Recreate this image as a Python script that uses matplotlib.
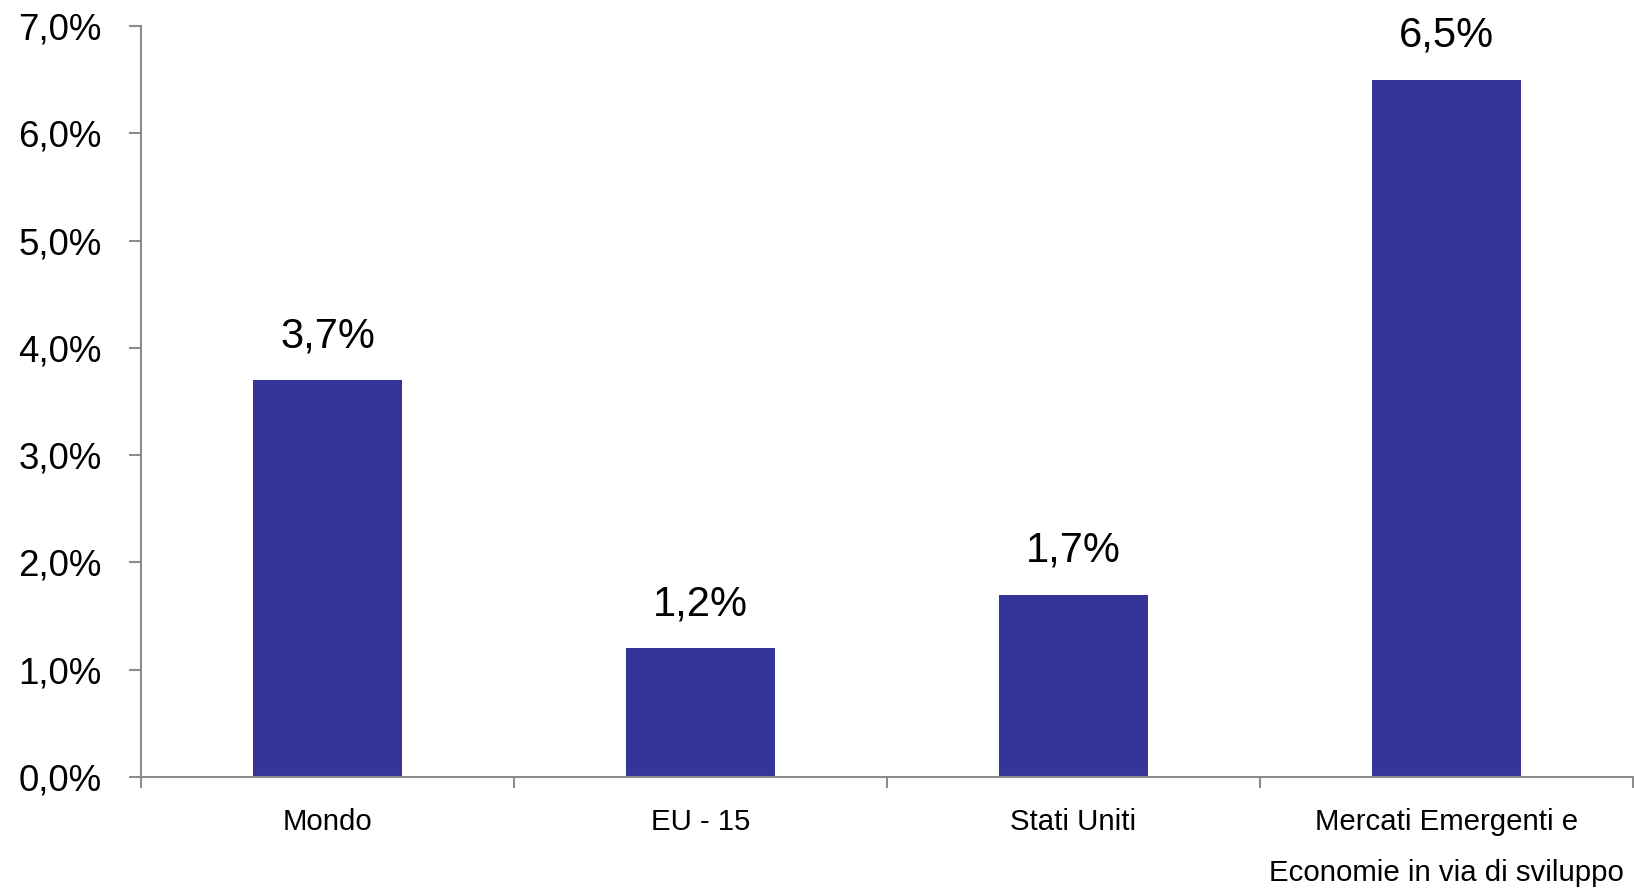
import matplotlib
matplotlib.use("Agg")
import matplotlib.pyplot as plt
from matplotlib.ticker import FuncFormatter

categories = ["Mondo", "EU - 15", "Stati Uniti", "Mercati Emergenti e\nEconomie in via di sviluppo"]
values = [3.7, 1.2, 1.7, 6.5]
yticks = [0, 1, 2, 3, 4, 5, 6, 7]

plt.rcParams['font.family'] = ['Liberation Sans', 'DejaVu Sans']

fig = plt.figure(figsize=(16.34, 8.9), dpi=100)
ax = fig.add_axes([0.0863, 0.127, 0.9131, 0.8438])

bar_color = "#353599"
axis_color = "#8c8c8c"
x = list(range(len(categories)))
bars = ax.bar(x, values, width=0.4, color=bar_color, zorder=2)

for xi, v in zip(x, values):
    ax.annotate(f"{v:.1f}%".replace('.', ','), (xi, v), xytext=(0, 31.5),
                textcoords="offset points", ha="center", va="center", fontsize=30)

ax.set_xlim(-0.5, len(categories) - 0.5)
ax.set_ylim(0, 7)
ax.set_yticks(yticks)
ax.yaxis.set_major_formatter(FuncFormatter(lambda v, p: f"{v:.1f}%".replace('.', ',')))

ax.set_xticks([i - 0.5 for i in range(len(categories) + 1)])
ax.set_xticklabels([])
ax.set_xticks(x, minor=True)
ax.set_xticklabels(categories, minor=True, fontsize=21.2, linespacing=2.05, va='top')
ax.tick_params(axis='x', which='minor', length=0, pad=22)
ax.tick_params(axis='x', which='major', length=8, width=1.5, color=axis_color)
ax.tick_params(axis='y', length=8.5, width=1.5, color=axis_color, labelsize=26.5, pad=20)

for s in ['top', 'right']:
    ax.spines[s].set_visible(False)
for s in ['left', 'bottom']:
    ax.spines[s].set_color(axis_color)
    ax.spines[s].set_linewidth(1.5)

fig.savefig("out.png", dpi=100)
